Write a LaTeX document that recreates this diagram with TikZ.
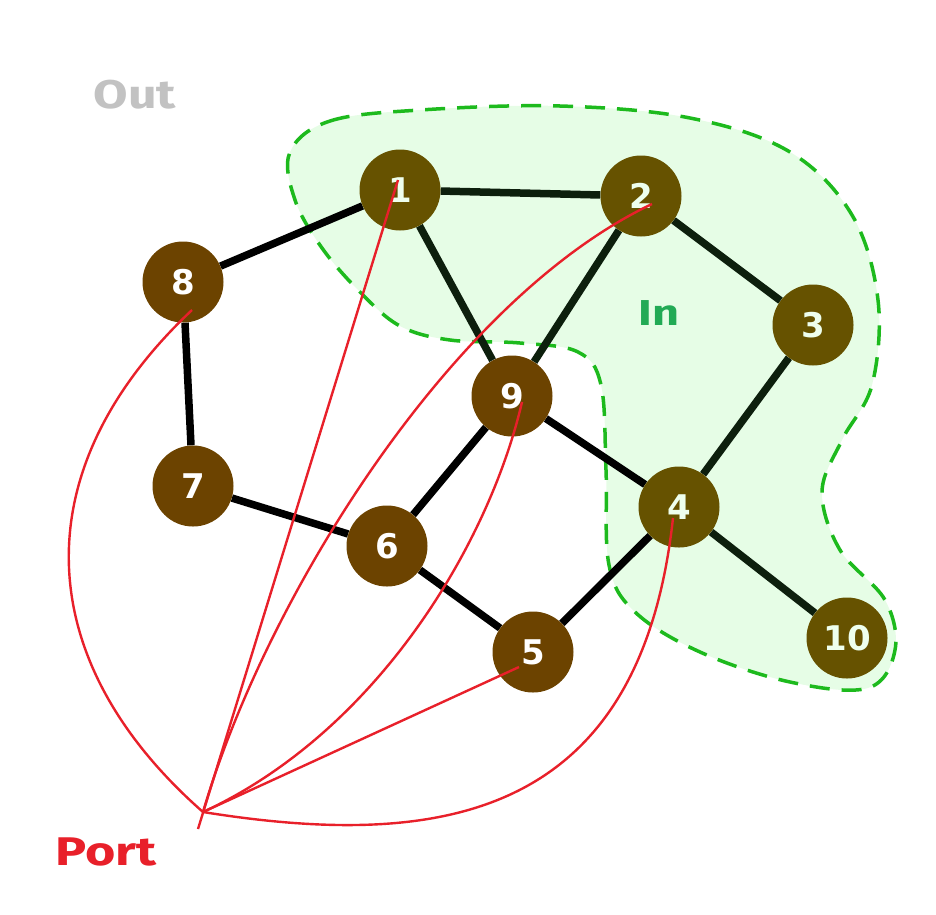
\documentclass[tikz,border=0pt]{standalone}
\usepackage{fontspec}
\usepackage{graphicx}
\usetikzlibrary{backgrounds}
\newfontfamily\numfont{DejaVu Sans}
\newfontfamily\hand{Fira Sans}
\definecolor{regfill}{HTML}{E6FDE6}
\definecolor{regline}{HTML}{1DBA1D}
\definecolor{olivenode}{HTML}{665200}
\definecolor{brownnode}{HTML}{6C4300}
\definecolor{inedge}{HTML}{0D1F0D}
\definecolor{portred}{HTML}{E8202A}
\definecolor{intext}{HTML}{22AA55}
\definecolor{outtext}{HTML}{C2C2C2}
\definecolor{palelbl}{HTML}{EEFFEE}
\tikzset{
  vtx/.style={circle, minimum size=81pt, inner sep=0pt, text=white,
    font=\numfont\bfseries\fontsize{34}{34}\selectfont},
  vin/.style={vtx, fill=olivenode, text=palelbl},
  vout/.style={vtx, fill=brownnode},
  edgeout/.style={line width=7.5pt, black},
  edgein/.style={line width=7.5pt, inedge},
  redline/.style={line width=2.4pt, portred},
  region/.style={fill=regfill, draw=regline, line width=3.5pt, dash pattern=on 20pt off 12pt},
  lbl/.style={font=\hand\bfseries\fontsize{40}{40}\selectfont}
}
\begin{document}
\begin{tikzpicture}[x=1pt,y=-1pt]
\useasboundingbox (0,0) rectangle (936,914);
% nodes
\node[vin] (n1) at (400,190) {1};
\node[vin] (n2) at (641,196) {2};
\node[vin] (n3) at (813,325) {3};
\node[vin] (n4) at (679,507) {4};
\node[vin] (n10) at (847,638) {10};
\node[vout] (n8) at (183,282) {8};
\node[vout] (n9) at (512,396) {9};
\node[vout] (n7) at (193,486) {7};
\node[vout] (n6) at (387,546) {6};
\node[vout] (n5) at (533,652) {5};
\begin{scope}[on background layer]
% region
\draw[region] plot[smooth cycle, tension=0.6] coordinates {
 (290,152) (330,121) (420,110) (560,106) (690,118) (790,152) (852,215)
 (878,300) (872,385) (842,440) (822,492) (840,550) (885,600) (895,650)
 (868,688) (790,682) (700,652) (635,612) (609,565) (606,470) (601,385)
 (578,352) (520,343) (450,340) (400,326) (360,292) (322,248) (295,200)};
% edges
\draw[edgein] (n1) -- (n2);
\draw[edgein] (n2) -- (n3);
\draw[edgein] (n3) -- (n4);
\draw[edgein] (n4) -- (n10);
\draw[edgein] (n1) -- (n9);
\draw[edgein] (n2) -- (n9);
\draw[edgeout] (n1) -- (n8);
\draw[edgeout] (n8) -- (n7);
\draw[edgeout] (n7) -- (n6);
\draw[edgeout] (n6) -- (n9);
\draw[edgeout] (n9) -- (n4);
\draw[edgeout] (n6) -- (n5);
\draw[edgeout] (n5) -- (n4);
\end{scope}
% port connectors
\coordinate (port) at (203,812);
\coordinate (tail) at (198,829);
\coordinate (p1) at (398,180);
\coordinate (p2) at (652,204);
\coordinate (p4) at (673,518);
\coordinate (p5) at (519,667);
\coordinate (p8) at (192,310);
\coordinate (p9) at (522,402);
\draw[redline] (tail) -- (p1);
\draw[redline] (port) -- (p5);
\draw[redline] (port) .. controls (30,660) and (22,470) .. (p8);
\draw[redline] (port) .. controls (265,600) and (450,300) .. (p2);
\draw[redline] (port) .. controls (380,730) and (490,540) .. (p9);
\draw[redline] (port) .. controls (440,850) and (640,820) .. (p4);
% labels
\node[lbl, text=outtext] (outl) at (135,95) {\scalebox{1.25}[1]{Out}};
\node[lbl, text=intext, font=\hand\bfseries\fontsize{36}{36}\selectfont] (inl) at (659,313) {\scalebox{1.3}[1]{In}};
\node[lbl, text=portred] (portl) at (106,852) {\scalebox{1.3}[1]{Port}};
\end{tikzpicture}
\end{document}
